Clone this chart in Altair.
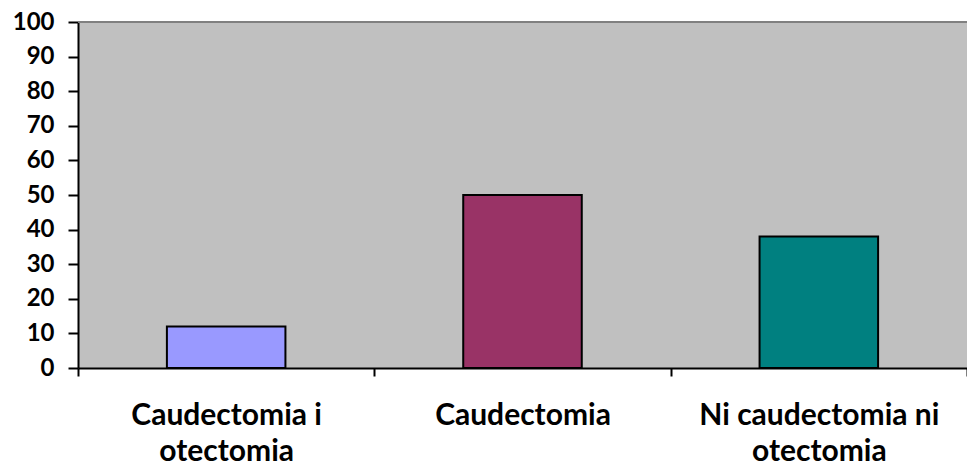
import altair as alt
import pandas as pd

categories = ["Caudectomia i|otectomia", "Caudectomia", "Ni caudectomia ni|otectomia"]
values = [12, 50, 38]
colors = ["#9999FF", "#993366", "#008080"]

df = pd.DataFrame({"cat": categories, "val": values, "col": colors})

x = alt.X(
    "cat:N",
    sort=categories,
    scale=alt.Scale(paddingInner=0, paddingOuter=0),
    axis=alt.Axis(
        title=None,
        labelAngle=0,
        labelExpr="split(datum.label, '|')",
        labelFont="Lato",
        labelFontWeight="bold",
        labelFontSize=30,
        labelColor="black",
        labelLineHeight=36,
        labelPadding=24,
        labelLimit=0,
        labelOverlap=False,
        tickBand="extent",
        tickSize=8,
        tickWidth=2,
        tickColor="black",
        domainColor="black",
        domainWidth=2,
    ),
)

y_axis = alt.Axis(
    title=None,
    values=list(range(0, 101, 10)),
    grid=False,
    labelFont="Lato",
    labelFontWeight="bold",
    labelFontSize=24,
    labelColor="black",
    labelPadding=14,
    labelOverlap=False,
    tickSize=10,
    tickWidth=2,
    tickColor="black",
    domainColor="black",
    domainWidth=2,
)
y_scale = alt.Scale(domain=[0, 100], nice=False)

bars = alt.Chart(df).mark_bar(
    stroke="black", strokeWidth=2, width=alt.RelativeBandSize(0.4)
).encode(
    x=x,
    y=alt.Y("val:Q", scale=y_scale, axis=y_axis),
    color=alt.Color("col:N", scale=None),
)

top = alt.Chart(df).mark_rule(color="#808080", strokeWidth=2).encode(
    y=alt.datum(100, scale=y_scale, axis=y_axis)
)

chart = alt.layer(bars, top).properties(
    width=889,
    height=346,
    autosize=alt.AutoSizeParams(type="none"),
    padding={"left": 70, "top": 14, "right": 0, "bottom": 98},
).configure_view(
    fill="#C0C0C0", stroke=None
)

chart.save("out.html", embed_options={"renderer": "svg", "actions": False})
